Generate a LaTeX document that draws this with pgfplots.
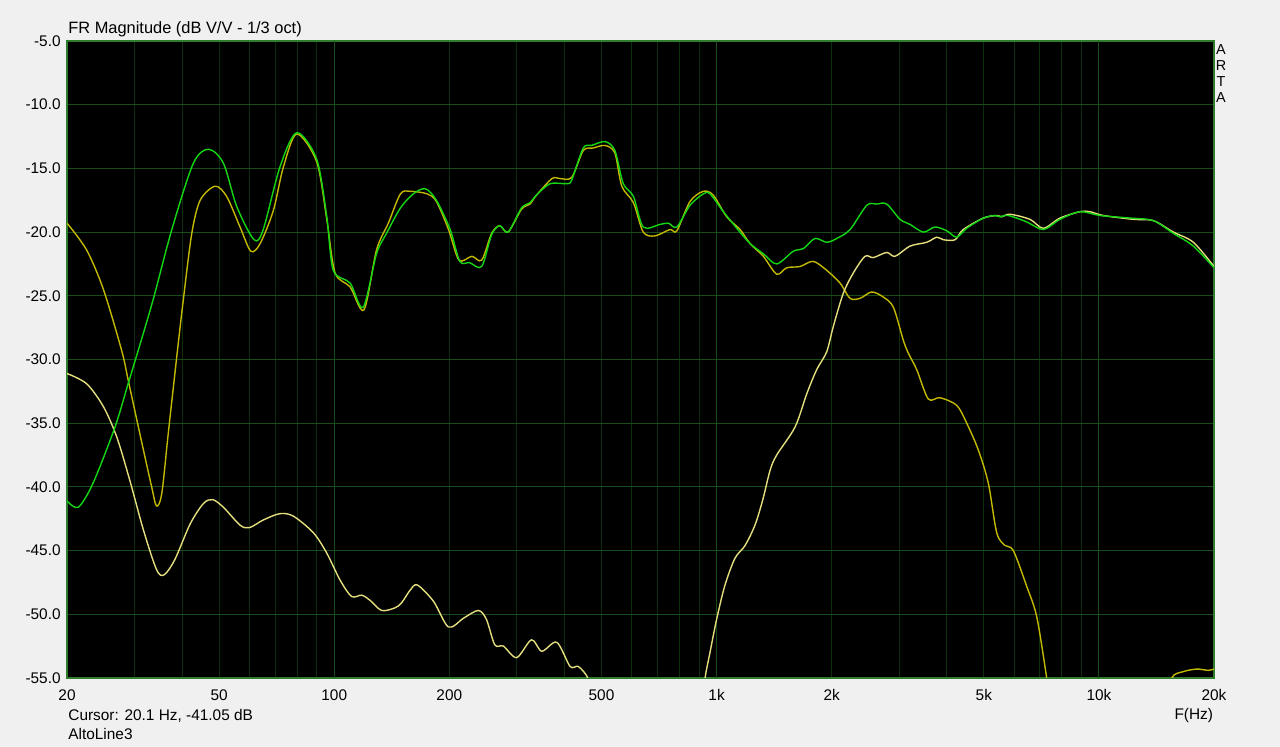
\documentclass[border=0pt]{standalone}
\usepackage{fontspec}
\setmainfont{Liberation Sans}
\usepackage{pgfplots}
\pgfplotsset{compat=1.18}
\definecolor{bgcol}{RGB}{240,240,240}
\definecolor{sumgreen}{RGB}{20,215,20}
\definecolor{woofer}{RGB}{195,185,0}
\definecolor{tweeter}{RGB}{228,222,125}
\definecolor{gridmaj}{RGB}{24,76,24}
\definecolor{gridmin}{RGB}{12,46,12}
\definecolor{framegreen}{RGB}{45,125,45}
\begin{document}
\begin{tikzpicture}
\path[use as bounding box, fill=bgcol] (-33.5pt,-34.5pt) rectangle (606.5pt,339pt);
\begin{axis}[
  at={(0pt,0pt)}, anchor=south west,
  width=573.5pt, height=318.5pt, scale only axis,
  xmode=log, xmin=20, xmax=20000, ymin=-55, ymax=-5,
  axis background/.style={fill=black},
  axis line style={draw=framegreen, line width=0.6pt},
  major tick length=0pt, minor tick length=0pt,
  xtick={20,50,100,200,500,1000,2000,5000,10000,20000},
  xticklabels={20,50,100,200,500,1k,2k,5k,10k,20k},
  minor xtick={30,40,60,70,80,90,300,400,600,700,800,900,3000,4000,6000,7000,8000,9000},
  extra x ticks={100,1000,10000},
  extra x tick labels={},
  extra x tick style={grid=major, major grid style={draw=gridmaj, line width=0.5pt}},
  ytick={-55,-50,-45,-40,-35,-30,-25,-20,-15,-10,-5},
  yticklabels={-55.0,-50.0,-45.0,-40.0,-35.0,-30.0,-25.0,-20.0,-15.0,-10.0,-5.0},
  xmajorgrids, xminorgrids, ymajorgrids,
  major grid style={draw=gridmin, line width=0.5pt},
  minor grid style={draw=gridmin, line width=0.5pt},
  y grid style={draw=gridmaj, line width=0.5pt},
  tick label style={font=\fontsize{7.7}{9}\selectfont, text=black},
  xticklabel style={anchor=base, yshift=-11.5pt, inner sep=0pt},
  yticklabel style={anchor=east, inner sep=0pt, xshift=-3pt},
  every axis plot/.append style={line width=0.7pt, smooth, tension=0.5},
]
% woofer (low section)
\addplot[woofer] coordinates {
(20,-19.3) (22.5,-21.4) (24.9,-24.5) (27.8,-29.3) (28.9,-31.6) (31.0,-35.8) (33.3,-40.0) (34.3,-41.5) (35.4,-40.5) (36.8,-35.8) (38.9,-29.3) (40.3,-25.3) (42.4,-20.1) (44.6,-17.5) (48.8,-16.4) (52.3,-17.2) (56.7,-19.6) (60.5,-21.5) (64.0,-20.9) (69.3,-18.3) (73.6,-14.9) (79.8,-12.3) (90.0,-14.5) (95.6,-19.0) (100.5,-23.2) (110,-24.3) (119.6,-26.1) (129,-21.4) (138.5,-19.3) (149,-17.0) (158,-16.8) (175,-17.0) (185,-17.6) (199,-19.8) (212,-22.2) (229,-21.9) (243,-22.2) (258,-20.1) (271,-19.5) (285,-20.0) (309,-18.2) (325,-17.8) (338,-17.1) (371,-15.8) (389.5,-15.8) (418,-15.7) (448,-13.6) (476,-13.4) (511,-13.2) (542,-13.8) (565,-16.4) (606,-17.7) (643,-20.0) (690,-20.3) (755,-19.8) (787,-19.9) (852,-17.6) (923,-16.8) (980,-17.1) (1063,-18.8) (1152,-19.8) (1223,-20.9) (1325,-21.9) (1436,-23.3) (1526,-22.8) (1653,-22.7) (1790,-22.3) (1941,-23.0) (2103,-24.0) (2234,-25.2) (2372,-25.2) (2545,-24.7) (2729,-25.1) (2900,-25.9) (3079,-28.5) (3173,-29.5) (3338,-30.8) (3578,-33.1) (3840,-33.0) (4247,-33.6) (4510,-35.0) (4836,-37.1) (5136,-39.7) (5404,-43.6) (5680,-44.6) (5972,-45.0) (6472,-47.8) (6877,-50.2) (7302,-55.0) (7500,-57.5)
};
% woofer (re-emerging at top end)
\addplot[woofer] coordinates {
(15000,-57.5) (15508,-55.0) (16624,-54.5) (18022,-54.3) (19326,-54.4) (20000,-54.3)
};
% tweeter (low section)
\addplot[tweeter] coordinates {
(20,-31.1) (22.5,-31.9) (24.9,-33.7) (27.0,-36.1) (29.2,-39.5) (31.7,-43.4) (34.3,-46.5) (35.9,-46.9) (38.3,-45.7) (42.0,-42.9) (45.5,-41.3) (48.1,-41.0) (51.3,-41.6) (56.7,-43.0) (60.0,-43.2) (65.2,-42.6) (72.1,-42.1) (78.2,-42.3) (88.2,-43.6) (95.6,-45.2) (103.5,-47.3) (111,-48.6) (118,-48.5) (124,-48.9) (133,-49.7) (144,-49.5) (150,-49.1) (158,-48.1) (165,-47.7) (182,-49.0) (199,-51.0) (218,-50.3) (238,-49.7) (250,-50.4) (263,-52.4) (277,-52.5) (300,-53.4) (328,-52.0) (349,-52.9) (382,-52.2) (414,-54.1) (435,-54.1) (462,-55.1) (480,-57.5)
};
% tweeter (rising section)
\addplot[tweeter] coordinates {
(915,-57.5) (933,-55.0) (961,-53.0) (1000,-50.4) (1052,-47.7) (1117,-45.6) (1187,-44.6) (1260,-43.0) (1321,-41.0) (1380,-38.7) (1436,-37.5) (1604,-35.3) (1721,-32.7) (1827,-30.8) (1941,-29.4) (2020,-27.4) (2145,-24.8) (2279,-23.2) (2445,-21.9) (2570,-22.0) (2786,-21.6) (2930,-21.9) (3206,-21.1) (3546,-20.8) (3766,-20.4) (3918,-20.6) (4204,-20.6) (4418,-19.8) (4984,-18.9) (5404,-18.7) (5570,-18.8) (5854,-18.6) (6602,-19.0) (7155,-19.7) (7912,-18.9) (8924,-18.4) (9480,-18.4) (10270,-18.7) (12302,-19.0) (13878,-19.1) (15658,-20.0) (17658,-20.8) (20000,-22.7)
};
% sum
\addplot[sumgreen] coordinates {
(20,-41.1) (21.4,-41.6) (23.4,-39.7) (26.7,-35.3) (28.9,-31.9) (30.7,-29.3) (33.6,-25.3) (37.6,-19.8) (42.8,-14.6) (46.9,-13.5) (51.3,-14.6) (55.6,-18.0) (61.7,-20.6) (65.2,-19.8) (72.1,-14.9) (79.8,-12.2) (90.0,-14.3) (95.6,-18.8) (99.4,-23.0) (110,-24.0) (119,-25.9) (129,-21.7) (137,-20.1) (149,-18.1) (161,-17.0) (173,-16.6) (185,-17.5) (201,-19.8) (213,-22.3) (226,-22.4) (243,-22.7) (258,-20.2) (271,-19.5) (285,-20.0) (309,-18.1) (325,-17.7) (338,-17.1) (367,-16.2) (406,-16.2) (418,-15.9) (448,-13.4) (471,-13.2) (511,-12.9) (542,-13.6) (570,-16.2) (606,-17.2) (643,-19.6) (711,-19.4) (748,-19.3) (787,-19.6) (852,-17.9) (923,-17.0) (961,-17.0) (1042,-18.4) (1129,-19.7) (1223,-20.9) (1325,-21.7) (1436,-22.5) (1587,-21.5) (1686,-21.3) (1809,-20.5) (1941,-20.8) (2062,-20.5) (2234,-19.8) (2470,-17.9) (2623,-17.8) (2786,-17.8) (3019,-19.0) (3206,-19.4) (3474,-20.0) (3727,-19.6) (3999,-19.9) (4247,-20.4) (4510,-19.7) (4984,-18.9) (5348,-18.7) (5512,-18.8) (5795,-18.7) (6472,-19.2) (7155,-19.8) (7912,-19.0) (8924,-18.4) (10068,-18.7) (12060,-18.9) (13878,-19.1) (15658,-20.1) (17658,-21.1) (20000,-22.8)
};
\end{axis}
\node[anchor=base west, inner sep=0pt, font=\fontsize{8.2}{10}\selectfont] at (0.5pt,322pt) {FR Magnitude (dB V/V - 1/3 oct)};
\node[anchor=base west, inner sep=0pt, font=\fontsize{7.7}{9}\selectfont] at (0.5pt,-21.5pt) {Cursor: 20.1 Hz, -41.05 dB};
\node[anchor=base west, inner sep=0pt, font=\fontsize{7.7}{9}\selectfont] at (0.5pt,-31pt) {AltoLine3};
\node[anchor=base east, inner sep=0pt, font=\fontsize{7.7}{9}\selectfont] at (573.2pt,-21pt) {F(Hz)};
\node[anchor=base, inner sep=0pt, font=\fontsize{7.2}{9}\selectfont] at (577pt,311.5pt) {A};
\node[anchor=base, inner sep=0pt, font=\fontsize{7.2}{9}\selectfont] at (577pt,303.65pt) {R};
\node[anchor=base, inner sep=0pt, font=\fontsize{7.2}{9}\selectfont] at (577pt,295.8pt) {T};
\node[anchor=base, inner sep=0pt, font=\fontsize{7.2}{9}\selectfont] at (577pt,287.9pt) {A};
\end{tikzpicture}
\end{document}
